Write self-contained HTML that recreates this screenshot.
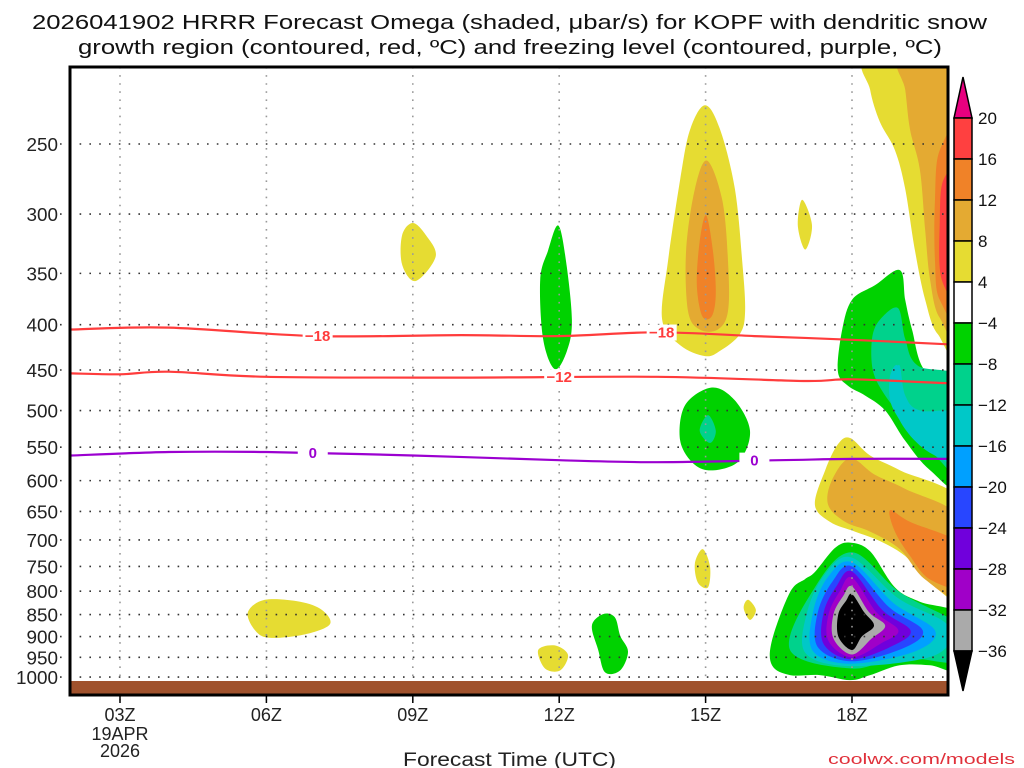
<!DOCTYPE html>
<html><head><meta charset="utf-8"><style>
html,body{margin:0;padding:0;background:#fff;}
svg{display:block;font-family:"Liberation Sans",sans-serif;}
</style></head><body>
<svg id="chart" width="1024" height="768" viewBox="0 0 1024 768" xmlns="http://www.w3.org/2000/svg">
<g font-size="20.5" fill="#111">
<text x="32" y="29" textLength="955" lengthAdjust="spacingAndGlyphs">2026041902 HRRR Forecast Omega (shaded, μbar/s) for KOPF with dendritic snow</text>
<text x="78" y="54" textLength="864" lengthAdjust="spacingAndGlyphs">growth region (contoured, red, ºC) and freezing level (contoured, purple, ºC)</text>
</g>
<defs><clipPath id="plotclip"><rect x="70" y="67" width="878" height="628"/></clipPath></defs>
<g id="shades" clip-path="url(#plotclip)"></g>
<g id="grid"></g>
<g id="ground"></g>
<g id="contours" clip-path="url(#plotclip)"></g>
<rect x="70" y="67" width="878" height="628" fill="none" stroke="#000" stroke-width="3"/>
<g id="yaxis" font-size="18" fill="#222" text-anchor="end"></g>
<g id="xaxis" font-size="18" fill="#222" text-anchor="middle"></g>
<text x="403" y="766" font-size="19" textLength="213" lengthAdjust="spacingAndGlyphs" fill="#222">Forecast Time (UTC)</text>
<text x="828" y="764" font-size="15" textLength="187" lengthAdjust="spacingAndGlyphs" fill="#e0303a">coolwx.com/models</text>
<g id="cbar" font-size="17" fill="#111"></g>
</svg>
<script>
const NS='http://www.w3.org/2000/svg';
const pTicks=[250,300,350,400,450,500,550,600,650,700,750,800,850,900,950,1000];
const hourTicks=[3,6,9,12,15,18];
const hourLabels=['03Z','06Z','09Z','12Z','15Z','18Z'];
const cbLevels=[20,16,12,8,4,-4,-8,-12,-16,-20,-24,-28,-32,-36];
const cbColors=['#ff4040','#f08228','#e4aa32','#e6dc32','#ffffff','#00d200','#00d28c','#00c8c8','#00a0ff','#2846ff','#7000dc','#a000c8','#aaaaaa'];
const shadeColors={y:'#e6dc32',g:'#e4aa32',o:'#f08228',r:'#ff4040',G:'#00d200',S:'#00d28c',C:'#00c8c8',L:'#00a0ff',B:'#2846ff',V:'#7000dc',P:'#a000c8',A:'#aaaaaa',K:'#000000'};
const shadeKeys=['y','G','G','y','g','o','G','S','y','y','y','y','y','G','y','g','o','r','S','C','C','y','g','o','G','S','C','L','B','V','P','A','K'];
const shapes=[
[[8.78,317],[9.0,307],[9.27,317],[9.47,335],[9.06,357],[8.78,342]],
[[11.98,309],[12.14,339],[12.26,395],[12.16,428],[11.91,449],[11.67,415],[11.61,356],[11.77,330]],
[[15.13,471],[15.6,487],[15.91,527],[15.7,569],[15.19,584],[14.78,576],[14.48,541],[14.58,493]],
[[14.99,226],[15.3,241],[15.6,281],[15.75,339],[15.81,386],[15.7,410],[15.3,428],[14.99,434],[14.48,422],[14.11,395],[14.23,339],[14.48,274],[14.68,241]],
[[15.03,261],[15.34,289],[15.46,339],[15.46,386],[15.25,405],[14.88,405],[14.64,386],[14.6,330],[14.78,281]],
[[15.01,301],[15.15,330],[15.21,368],[15.13,391],[14.93,391],[14.82,360],[14.88,322]],
[[12.9,849],[13.14,856],[13.25,898],[13.41,936],[13.25,983],[12.94,988],[12.8,932],[12.67,875]],
[[15.05,506],[15.21,527],[15.09,544],[14.88,527]],
[[14.94,717],[15.09,750],[15.05,792],[14.84,782],[14.78,744]],
[[15.87,818],[16.03,840],[15.91,862],[15.78,836]],
[[16.98,289],[17.18,309],[17.04,329],[16.89,309]],
[[5.97,818],[6.69,822],[7.14,840],[7.3,872],[6.79,895],[6.07,903],[5.77,886],[5.62,845]],
[[11.57,932],[11.91,921],[12.18,944],[12.02,983],[11.71,978]],
[[18.98,347],[19.09,375],[19.23,405],[19.5,451],[20.3,477],[20.3,613],[19.6,584],[19.09,541],[18.68,500],[18.27,481],[17.92,469],[17.71,451],[17.8,405],[18.0,375],[18.47,361]],
[[18.33,200],[20.3,200],[20.3,422],[19.76,410],[19.5,375],[19.29,330],[19.09,281],[18.88,254],[18.57,236],[18.37,217]],
[[18.98,200],[20.3,200],[20.3,405],[19.8,393],[19.6,356],[19.5,313],[19.39,267],[19.19,241],[19.09,217]],
[[20.3,241],[20.3,393],[19.8,375],[19.7,339],[19.7,289],[19.8,254]],
[[20.3,267],[20.3,375],[19.84,356],[19.8,305],[19.88,274]],
[[18.94,383],[19.09,415],[19.35,445],[20.3,465],[20.3,591],[19.7,562],[19.09,513],[18.68,481],[18.43,451],[18.41,415],[18.57,395]],
[[18.94,445],[19.09,481],[19.39,500],[20.3,506],[20.3,576],[19.7,562],[19.29,541],[18.98,513],[18.78,487],[18.78,457]],
[[18.98,445],[19.09,481],[19.39,500],[20.3,506],[20.3,576],[19.7,562],[19.29,541],[18.98,513],[18.88,487],[18.88,457]],
[[17.96,537],[18.37,562],[18.98,584],[20.3,639],[20.3,816],[19.6,782],[19.09,730],[18.57,702],[18.06,685],[17.55,668],[17.24,639],[17.45,584],[17.71,546]],
[[17.96,566],[18.47,591],[19.09,613],[20.3,668],[20.3,814],[19.5,776],[18.98,717],[18.37,685],[17.86,668],[17.51,639],[17.59,599]],
[[18.78,648],[19.19,668],[20.3,712],[20.3,792],[19.6,776],[19.19,730],[18.88,685]],
[[17.96,705],[18.37,721],[18.88,792],[19.39,822],[20.3,856],[20.3,983],[19.6,970],[18.98,970],[18.37,995],[17.96,1008],[17.34,995],[16.73,995],[16.36,970],[16.36,909],[16.73,802],[17.04,775],[17.24,761],[17.65,715]],
[[18.0,723],[18.98,802],[20.3,881],[20.3,962],[18.98,950],[18.0,978],[16.73,932],[17.24,792]],
[[18.0,733],[18.95,815],[19.97,875],[19.7,945],[18.0,972],[17.05,940],[17.08,845],[17.45,765]],
[[18.0,742],[18.85,825],[19.7,886],[19.3,935],[18.0,966],[17.2,935],[17.2,845],[17.5,772]],
[[18.0,750],[18.75,833],[19.45,886],[19.05,928],[18.0,960],[17.3,925],[17.3,845],[17.6,780]],
[[18.0,760],[18.62,840],[19.2,886],[18.85,921],[18.0,955],[17.42,918],[17.42,845],[17.68,790]],
[[18.0,772],[18.5,845],[18.95,886],[18.6,916],[18.0,950],[17.52,911],[17.52,849],[17.75,800]],
[[18.0,790],[18.35,845],[18.68,875],[18.4,905],[18.0,943],[17.62,905],[17.62,849],[17.82,810]],
[[18.0,806],[18.25,845],[18.45,875],[18.2,900],[18.0,932],[17.72,900],[17.72,849],[17.88,820]]
];
const minus18Hours=[2,4,7,10,12,14,16,18,20];
const minus18P=[405,403,412,411,412,408,412,416,421];
const minus12Hours=[2,3,4,6,10,14,17,18,20];
const minus12P=[454,455,452,458,459,458,463,461,466];
const zeroHours=[2,4,6,9,12,14,16.5,18,20];
const zeroP=[562,557,557,562,569,572,569,567,567];

const X=h=>120+(h-3)*48.8;
const Y=p=>144+384.5*Math.log(p/250);
function mk(tag,attrs,parent){const e=document.createElementNS(NS,tag);for(const k in attrs)e.setAttribute(k,attrs[k]);parent.appendChild(e);return e;}

function smoothPath(pts,closed){
  const P=pts.map(q=>[X(q[0]),Y(q[1])]);const n=P.length;let d='M'+P[0][0].toFixed(1)+','+P[0][1].toFixed(1);
  const last=closed?n:n-1;
  for(let i=0;i<last;i++){
    const p0=P[closed?(i-1+n)%n:Math.max(i-1,0)],p1=P[i],p2=P[(i+1)%n],p3=P[closed?(i+2)%n:Math.min(i+2,n-1)];
    const c1=[p1[0]+(p2[0]-p0[0])/6,p1[1]+(p2[1]-p0[1])/6],c2=[p2[0]-(p3[0]-p1[0])/6,p2[1]-(p3[1]-p1[1])/6];
    d+=`C${c1[0].toFixed(1)},${c1[1].toFixed(1)} ${c2[0].toFixed(1)},${c2[1].toFixed(1)} ${p2[0].toFixed(1)},${p2[1].toFixed(1)}`;
  }
  return d+(closed?'Z':'');
}
const shadesG=document.getElementById('shades');
shapes.forEach((s,i)=>{
  const e=mk('path',{d:smoothPath(s,true),fill:shadeColors[shadeKeys[i]]},shadesG);
  
  
});

const grid=document.getElementById('grid');
pTicks.forEach(p=>{
  const e=mk('line',{x1:60,x2:948,y1:Y(p),y2:Y(p),stroke:'#333','stroke-width':1.6,'stroke-dasharray':'1.6 8.2'},grid);
  
  
});
hourTicks.forEach(h=>{
  const e=mk('line',{x1:X(h),x2:X(h),y1:67,y2:702,stroke:'#999','stroke-width':1.6,'stroke-dasharray':'1.6 6.5'},grid);
  
  
});
const groundRect=mk('rect',{x:70,y:681,width:878,height:13,fill:'#a0522d'},document.getElementById('ground'));



const cg=document.getElementById('contours');
function line(hours,ps,color,name,labels,txt){
  const e=mk('path',{d:smoothPath(hours.map((h,i)=>[h,ps[i]]),false),fill:'none',stroke:color,'stroke-width':2.2},cg);
  
  
  labels.forEach(h=>{
    let j=0;while(j<hours.length-2&&hours[j+1]<h)j++;
    const t=(h-hours[j])/(hours[j+1]-hours[j]);const p=ps[j]+(ps[j+1]-ps[j])*t;
    mk('rect',{x:X(h)-15,y:Y(p)-8,width:30,height:16,fill:'#fff'},cg);
    const l=mk('text',{x:X(h),y:Y(p)+5,'font-size':15,'font-weight':'bold','text-anchor':'middle',fill:color},cg);
    l.textContent=txt;
    
    
  });
}
line(minus18Hours,minus18P,'#ff3c3c','contour-minus18',[7.05,14.1],'−18');
line(minus12Hours,minus12P,'#ff3c3c','contour-minus12',[12.0],'−12');
line(zeroHours,zeroP,'#9b00d0','contour-freezing',[6.95,16.0],'0');

const ya=document.getElementById('yaxis');
pTicks.forEach(p=>{
  const t=mk('text',{x:58,y:Y(p)+7,textLength:String(p).length*10.5,lengthAdjust:'spacingAndGlyphs'},ya);t.textContent=p;
  
  
});
const xa=document.getElementById('xaxis');
hourTicks.forEach((h,i)=>{
  mk('line',{x1:X(h),x2:X(h),y1:695,y2:703,stroke:'#000','stroke-width':1.5},xa);
  const t=mk('text',{x:X(h),y:721},xa);t.textContent=hourLabels[i];
  
  
});
[['19APR',740],['2026',757]].forEach(a=>{const t=mk('text',{x:X(3),y:a[1]},xa);t.textContent=a[0];
  
  });

const cb=document.getElementById('cbar');
const cbTop=118,cbStep=41,cx0=954,cw=18;
const arrowTop=mk('polygon',{points:`${cx0},${cbTop} ${cx0+cw},${cbTop} ${cx0+cw/2},${cbTop-41}`,fill:'#e8007f',stroke:'#000','stroke-width':1.5},cb);


cbColors.forEach((c,i)=>{
  const r=mk('rect',{x:cx0,y:cbTop+i*cbStep,width:cw,height:cbStep,fill:c,stroke:'#000','stroke-width':1.5},cb);
  
  
});
const yb=cbTop+cbColors.length*cbStep;
const arrowBot=mk('polygon',{points:`${cx0},${yb} ${cx0+cw},${yb} ${cx0+cw/2},${yb+40}`,fill:'#000',stroke:'#000','stroke-width':1.5},cb);


cbLevels.forEach((v,i)=>{
  const t=mk('text',{x:978,y:cbTop+i*cbStep+6},cb);t.textContent=v<0?'−'+(-v):String(v);
  
  
});
</script>
</body></html>
